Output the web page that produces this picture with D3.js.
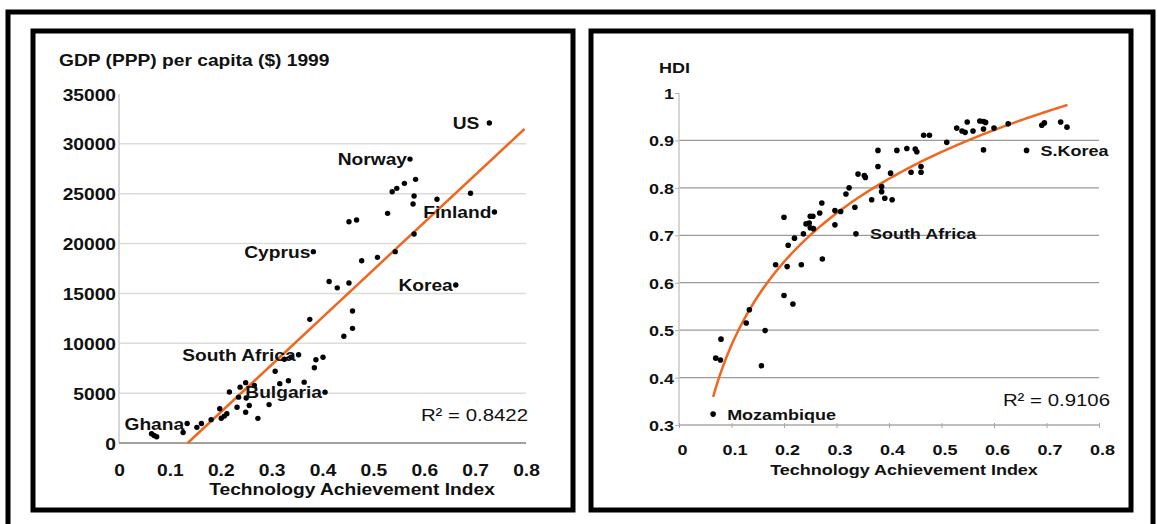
<!DOCTYPE html>
<html>
<head>
<meta charset="utf-8">
<script src="https://cdn.jsdelivr.net/npm/d3@7"></script>
<style>
  body { margin: 0; background: #fff; }
  svg { display: block; }
  text { font-family: "Liberation Sans", Arial, sans-serif; fill: #111; }
</style>
</head>
<body>
<svg id="chart" width="1157" height="524"></svg>
<script>
// ---- data ----
// Technology Achievement Index vs GDP (PPP) per capita
const gdpPoints = [
  [0.728, 32090], [0.572, 28470], [0.583, 26440], [0.561, 26040], [0.546, 25540],
  [0.537, 25200], [0.580, 24770], [0.625, 24440], [0.691, 25040], [0.578, 23970],
  [0.528, 23030], [0.738, 23160], [0.452, 22190], [0.467, 22360], [0.580, 20960],
  [0.543, 19190], [0.382, 19190], [0.508, 18620], [0.477, 18280], [0.413, 16200],
  [0.429, 15560], [0.452, 16050], [0.662, 15840], [0.459, 13240], [0.375, 12400],
  [0.459, 11500], [0.442, 10700], [0.353, 8850], [0.338, 8600], [0.325, 8400],
  [0.387, 8350], [0.401, 8600], [0.384, 7550], [0.307, 7200], [0.316, 5950],
  [0.333, 6250], [0.364, 6100], [0.405, 5100], [0.249, 6050], [0.238, 5600],
  [0.266, 5770], [0.217, 5120], [0.250, 4520], [0.235, 4600], [0.256, 3760],
  [0.295, 3850], [0.232, 3580], [0.249, 3080], [0.273, 2470], [0.198, 3430],
  [0.212, 2940], [0.201, 2480], [0.207, 2700], [0.181, 2340], [0.162, 1950],
  [0.153, 1570], [0.134, 1950], [0.126, 1050], [0.064, 930], [0.069, 750],
  [0.074, 620]
];
// [name, index into gdpPoints]
const gdpLabels = [
  ["US", 0], ["Norway", 1], ["Finland", 11], ["Cyprus", 16], ["Korea", 22],
  ["South Africa", 27], ["Bulgaria", 37], ["Ghana", 56]
];
const gdpTicks = [0, 5000, 10000, 15000, 20000, 25000, 30000, 35000];
const gdpGrid = [5000, 10000, 15000, 20000, 25000, 30000];
const gdpTrend = [47568, -6422];      // slope, intercept (linear)
const gdpTrendRange = [0.135, 0.797];
const gdpR2 = "R\u00b2 = 0.8422";

// Technology Achievement Index vs HDI
const hdiPoints = [
  [0.065, 0.323], [0.070, 0.441], [0.079, 0.437], [0.080, 0.481], [0.128, 0.515],
  [0.134, 0.543], [0.157, 0.425], [0.164, 0.499], [0.200, 0.573], [0.217, 0.555],
  [0.184, 0.638], [0.206, 0.634], [0.233, 0.638], [0.273, 0.650], [0.200, 0.738],
  [0.208, 0.679], [0.220, 0.694], [0.237, 0.703], [0.242, 0.724], [0.248, 0.726],
  [0.250, 0.740], [0.255, 0.740], [0.250, 0.716], [0.256, 0.714], [0.268, 0.747],
  [0.272, 0.768], [0.297, 0.752], [0.297, 0.722], [0.308, 0.750], [0.318, 0.787],
  [0.324, 0.800], [0.335, 0.759], [0.337, 0.703], [0.341, 0.829], [0.353, 0.826],
  [0.355, 0.822], [0.367, 0.775], [0.379, 0.879], [0.379, 0.845], [0.386, 0.803],
  [0.386, 0.792], [0.392, 0.778], [0.406, 0.775], [0.403, 0.831], [0.415, 0.879],
  [0.434, 0.883], [0.450, 0.882], [0.453, 0.876], [0.442, 0.833], [0.461, 0.845],
  [0.461, 0.833], [0.466, 0.911], [0.477, 0.911], [0.510, 0.896], [0.529, 0.926],
  [0.539, 0.920], [0.545, 0.917], [0.549, 0.939], [0.560, 0.920], [0.573, 0.941],
  [0.580, 0.940], [0.584, 0.938], [0.580, 0.924], [0.580, 0.880], [0.600, 0.926],
  [0.627, 0.935], [0.662, 0.879], [0.691, 0.932], [0.696, 0.937], [0.727, 0.939],
  [0.739, 0.928]
];
const hdiLabels = [["Mozambique", 0], ["South Africa", 32], ["S.Korea", 66]];
const hdiTicks = [0.3, 0.4, 0.5, 0.6, 0.7, 0.8, 0.9, 1];
const hdiTickLabels = ["0.3", "0.4", "0.5", "0.6", "0.7", "0.8", "0.9", "1"];
const hdiGrid = [0.4, 0.5, 0.6, 0.7, 0.8, 0.9];
const hdiTrend = [0.253, 1.051];      // a, b for y = a ln(x) + b
const hdiTrendRange = [0.065, 0.74];
const hdiR2 = "R\u00b2 = 0.9106";

const taiTicks = [0, 0.1, 0.2, 0.3, 0.4, 0.5, 0.6, 0.7, 0.8];
const taiTickLabels = ["0", "0.1", "0.2", "0.3", "0.4", "0.5", "0.6", "0.7", "0.8"];

// ---- drawing ----
const svg = d3.select("#chart");
const stretch = 1.2;   // text in the picture is drawn a little wide
const orange = "#f1661f";

// helper: stretched text at a point
function addText(g, x, y, str, size, anchor, weight) {
    return g.append("text")
        .attr("transform", "translate(" + x + "," + y + ") scale(" + stretch + ",1)")
        .attr("text-anchor", anchor)
        .style("font-size", size + "px")
        .style("font-weight", weight)
        .text(str);
}

// outer frame and the two panel boxes
svg.append("rect").attr("x", 8).attr("y", 12).attr("width", 1145).attr("height", 530)
   .attr("fill", "none").attr("stroke", "#000").attr("stroke-width", 5);
svg.append("rect").attr("x", 33).attr("y", 31).attr("width", 540).attr("height", 479)
   .attr("fill", "none").attr("stroke", "#000").attr("stroke-width", 5);
svg.append("rect").attr("x", 591).attr("y", 31).attr("width", 540).attr("height", 479)
   .attr("fill", "none").attr("stroke", "#000").attr("stroke-width", 5);

// ===== left: GDP =====
let gL = svg.append("g");
let xL = d3.scaleLinear().domain([0, 0.8]).range([119, 526]);
let yL = d3.scaleLinear().domain([0, 35000]).range([443, 94]);

gL.selectAll("line.grid").data(gdpGrid).join("line")
  .attr("x1", xL(0)).attr("x2", xL(0.8))
  .attr("y1", d => yL(d)).attr("y2", d => yL(d))
  .attr("stroke", "#dcdcdc").attr("stroke-width", 1.5);

// y axis line
gL.append("line").attr("x1", xL(0)).attr("x2", xL(0))
  .attr("y1", yL(0)).attr("y2", yL(35000))
  .attr("stroke", "#c8c8c8").attr("stroke-width", 1.5);

let yAxisL = gL.append("g").attr("transform", "translate(" + xL(0) + ",0)")
  .call(d3.axisLeft(yL).tickValues(gdpTicks).tickFormat(d3.format("d")).tickSize(0));
yAxisL.select(".domain").remove();
yAxisL.selectAll("text")
  .attr("x", null).attr("dy", null)
  .attr("transform", "translate(-3,6) scale(" + stretch + ",1)")
  .style("font-size", "16px").style("font-weight", "bold").attr("fill", "#111");

// x axis line
gL.append("line").attr("x1", xL(0)).attr("x2", xL(0.8))
  .attr("y1", yL(0)).attr("y2", yL(0))
  .attr("stroke", "#a0a0a0").attr("stroke-width", 2);

let xAxisL = gL.append("g").attr("transform", "translate(0," + yL(0) + ")")
  .call(d3.axisBottom(xL).tickValues(taiTicks).tickFormat((d, i) => taiTickLabels[i]).tickSize(0));
xAxisL.select(".domain").remove();
xAxisL.selectAll("text")
  .attr("y", null).attr("dy", null)
  .attr("transform", "translate(0,33) scale(" + stretch + ",1)")
  .style("font-size", "16px").style("font-weight", "bold").attr("fill", "#111");

// trend line
gL.append("line")
  .attr("x1", xL(gdpTrendRange[0])).attr("y1", yL(gdpTrend[0] * gdpTrendRange[0] + gdpTrend[1]))
  .attr("x2", xL(gdpTrendRange[1])).attr("y2", yL(gdpTrend[0] * gdpTrendRange[1] + gdpTrend[1]))
  .attr("stroke", orange).attr("stroke-width", 2.5);

gL.selectAll("circle").data(gdpPoints).join("circle")
  .attr("cx", d => xL(d[0])).attr("cy", d => yL(d[1])).attr("r", 2.7)
  .attr("fill", "#000");

gdpLabels.forEach(l => {
    let p = gdpPoints[l[1]];
    let gap = l[0] === "US" ? 10 : 3;
    addText(gL, xL(p[0]) - gap, yL(p[1]) + 6, l[0], 16, "end", "bold");
});

addText(gL, 59, 66, "GDP (PPP) per capita ($) 1999", 16, "start", "bold");
addText(gL, 352, 495, "Technology Achievement Index", 16, "middle", "bold");
addText(gL, 528, 421, gdpR2, 17, "end", "normal");

// ===== right: HDI =====
let gR = svg.append("g");
let xR = d3.scaleLinear().domain([0, 0.8]).range([679, 1099]);
let yR = d3.scaleLinear().domain([0.3, 1]).range([425, 93]);

gR.selectAll("line.grid").data(hdiGrid).join("line")
  .attr("x1", xR(0)).attr("x2", xR(0.8))
  .attr("y1", d => yR(d)).attr("y2", d => yR(d))
  .attr("stroke", "#9a9a9a").attr("stroke-width", 1.3);

gR.append("line").attr("x1", xR(0)).attr("x2", xR(0))
  .attr("y1", yR(0.3)).attr("y2", yR(1))
  .attr("stroke", "#c8c8c8").attr("stroke-width", 1.5);

let yAxisR = gR.append("g").attr("transform", "translate(" + xR(0) + ",0)")
  .call(d3.axisLeft(yR).tickValues(hdiTicks).tickFormat((d, i) => hdiTickLabels[i]).tickSize(4));
yAxisR.select(".domain").remove();
yAxisR.selectAll("line").attr("stroke", "#b0b0b0");
yAxisR.selectAll("text")
  .attr("x", null).attr("dy", null)
  .attr("transform", "translate(-5,5.5) scale(" + stretch + ",1)")
  .style("font-size", "15px").style("font-weight", "bold").attr("fill", "#111");

gR.append("line").attr("x1", xR(0)).attr("x2", xR(0.8))
  .attr("y1", yR(0.3)).attr("y2", yR(0.3))
  .attr("stroke", "#a8a8a8").attr("stroke-width", 1.5);

let xAxisR = gR.append("g").attr("transform", "translate(0," + yR(0.3) + ")")
  .call(d3.axisBottom(xR).tickValues(taiTicks).tickFormat((d, i) => taiTickLabels[i]).tickSize(0));
xAxisR.select(".domain").remove();
xAxisR.selectAll("line").attr("y1", -2).attr("y2", 3).attr("stroke", "#a8a8a8");
xAxisR.selectAll("text")
  .attr("y", null).attr("dy", null)
  .attr("transform", "translate(3,30) scale(" + stretch + ",1)")
  .style("font-size", "15px").style("font-weight", "bold").attr("fill", "#111");

// log trend curve
let curveX = d3.range(hdiTrendRange[0], hdiTrendRange[1] + 0.001, 0.005);
gR.append("path")
  .datum(curveX)
  .attr("d", d3.line().x(d => xR(d)).y(d => yR(hdiTrend[0] * Math.log(d) + hdiTrend[1])))
  .attr("fill", "none").attr("stroke", orange).attr("stroke-width", 2.5);

gR.selectAll("circle").data(hdiPoints).join("circle")
  .attr("cx", d => xR(d[0])).attr("cy", d => yR(d[1])).attr("r", 2.8)
  .attr("fill", "#000");

hdiLabels.forEach(l => {
    let p = hdiPoints[l[1]];
    addText(gR, xR(p[0]) + 14, yR(p[1]) + 5.5, l[0], 15, "start", "bold");
});

addText(gR, 659, 73, "HDI", 15, "start", "bold");
addText(gR, 904, 475, "Technology Achievement Index", 15, "middle", "bold");
addText(gR, 1110, 406, hdiR2, 17, "end", "normal");
</script>
</body>
</html>
